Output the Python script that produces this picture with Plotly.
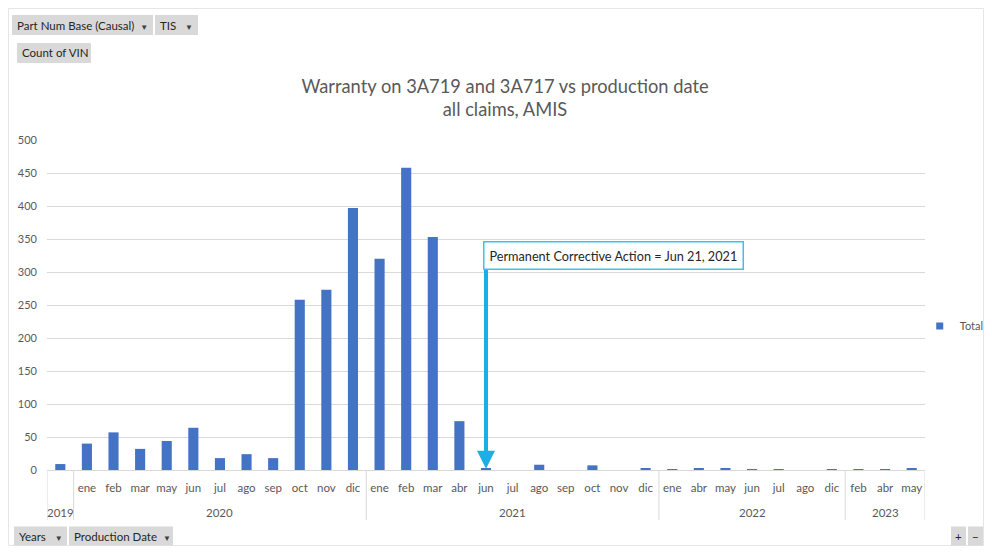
import plotly.graph_objects as go

years = ["2019"] + ["2020"] * 11 + ["2021"] * 11 + ["2022"] * 7 + ["2023"] * 3
months = ["",
          "ene", "feb", "mar", "may", "jun", "jul", "ago", "sep", "oct", "nov", "dic",
          "ene", "feb", "mar", "abr", "jun", "jul", "ago", "sep", "oct", "nov", "dic",
          "ene", "abr", "may", "jun", "jul", "ago", "dic",
          "feb", "abr", "may"]
counts = [9,
          40, 57, 32, 44, 64, 18, 24, 18, 258, 273, 397,
          320, 458, 353, 74, 2, 0, 8, 0, 7, 0, 2,
          1, 2, 2, 1, 1, 0, 1,
          1, 1, 2]

title_text = "Warranty on 3A719 and 3A717 vs production date<br>all claims, AMIS"
pca_text = "Permanent Corrective Action = Jun 21, 2021"
pca_year, pca_month = "2021", "jun"

FONT = "Lato, Calibri, Carlito, sans-serif"
GREY = "#595959"
LINE = "#d9d9d9"
ARROW = "<span style='font-size:8px;color:#404040'>▼</span>"

# page is shown with an 8px body margin -> keep the figure inside the window
W, H = 976, 538
keys = [f"{y}|{m}|{i}" for i, (y, m) in enumerate(zip(years, months))]
pca_index = next(i for i, (y, m) in enumerate(zip(years, months)) if y == pca_year and m == pca_month)

fig = go.Figure()
fig.add_trace(go.Bar(
    x=keys, y=counts, name="Total",
    marker=dict(color="#4472C4", line=dict(width=0)),
    showlegend=False,
))
# legend entry with a small square swatch
fig.add_trace(go.Scatter(
    x=[None], y=[None], mode="markers", name="Total",
    marker=dict(symbol="square", size=7, color="#4472C4"),
    showlegend=True,
))

fig.update_layout(
    width=W, height=H,
    margin=dict(l=39, r=59, t=132, b=76, autoexpand=False),
    paper_bgcolor="white", plot_bgcolor="white",
    font=dict(family=FONT, color=GREY, size=11),
    bargap=0.62,
    title=dict(text=title_text, x=(505 - 8) / W, xanchor="center",
               y=1 - (92.5 - 8) / H, yanchor="middle",
               font=dict(size=18.3, color=GREY, family=FONT)),
    showlegend=True,
    legend=dict(x=0.994, y=0.436, xanchor="left", yanchor="middle",
                font=dict(size=11, color=GREY), itemwidth=30,
                bgcolor="rgba(0,0,0,0)"),
    xaxis=dict(type="category", showgrid=False, range=[-0.5, len(keys) - 0.5],
               tickvals=keys, ticktext=months, tickangle=0,
               showline=True, linecolor=LINE, linewidth=1,
               tickfont=dict(size=11.5, color=GREY), ticks="", ticklabelstandoff=7),
    yaxis=dict(range=[0, 500], dtick=50, showgrid=True, gridcolor=LINE,
               gridwidth=1, zeroline=False, showline=False,
               tickfont=dict(size=11, color=GREY), ticklabelstandoff=9),
)

# year groups: dividers and centred labels
bounds = [0] + [i for i in range(1, len(years)) if years[i] != years[i - 1]] + [len(years)]
for b in bounds:
    fig.add_shape(type="line", xref="x", yref="paper", x0=b - 0.5, x1=b - 0.5,
                  y0=0, y1=(470 - 520) / 330, line=dict(color=LINE, width=1))
for s, e in zip(bounds[:-1], bounds[1:]):
    fig.add_annotation(x=(s + e - 1) / 2, y=(470 - 512) / 330, xref="x", yref="paper",
                       text=years[s], showarrow=False, yanchor="middle",
                       font=dict(size=11.5, color=GREY, family=FONT))

# Arrow marking the permanent corrective action
fig.add_annotation(x=pca_index, y=2, xref="x", yref="y",
                   ax=pca_index, ay=306, axref="x", ayref="y",
                   text="", showarrow=True, arrowhead=2, arrowsize=0.9,
                   arrowwidth=4, arrowcolor="#1CAEE4", standoff=0)
fig.add_annotation(x=(483 - 47) / 878, y=(470 - 255.5) / 330, xref="paper", yref="paper",
                   xanchor="left", yanchor="middle", text=pca_text, showarrow=False,
                   font=dict(size=12.7, color="#262626", family=FONT),
                   bgcolor="white", bordercolor="#3FC0EE", borderwidth=1.5, borderpad=5)


def px(v):
    return (v - 47) / 878


def py(v):
    return (470 - v) / 330


# Pivot field buttons
def button(text, x0, x1, yc, h=20, center=False):
    fig.add_shape(type="rect", xref="paper", yref="paper",
                  x0=px(x0), x1=px(x1), y0=py(yc - h / 2), y1=py(yc + h / 2),
                  fillcolor="#D9D9D9", line=dict(width=0), layer="above")
    fig.add_annotation(x=px((x0 + x1) / 2) if center else px(x0 + 3), y=py(yc),
                       xref="paper", yref="paper",
                       xanchor="center" if center else "left", yanchor="middle",
                       text=text, showarrow=False,
                       font=dict(size=11.5, color="#262626", family=FONT))


button("Part Num Base (Causal)  " + ARROW, 12, 153, 25)
button("TIS   " + ARROW, 155, 198, 25)
button("Count of VIN", 17, 91, 53)
button("Years   " + ARROW, 14, 67, 536, h=19)
button("Production Date  " + ARROW, 69, 173, 536, h=19)
button("+", 951, 966, 536, h=19, center=True)
button("−", 968, 983, 536, h=19, center=True)

# light outer chart border
fig.add_shape(type="rect", xref="paper", yref="paper",
              x0=px(8.5), x1=px(983.5), y0=py(545.5), y1=py(8.5),
              line=dict(color="#e6e6e6", width=1), fillcolor="rgba(0,0,0,0)", layer="below")

fig.write_html("out.html")
